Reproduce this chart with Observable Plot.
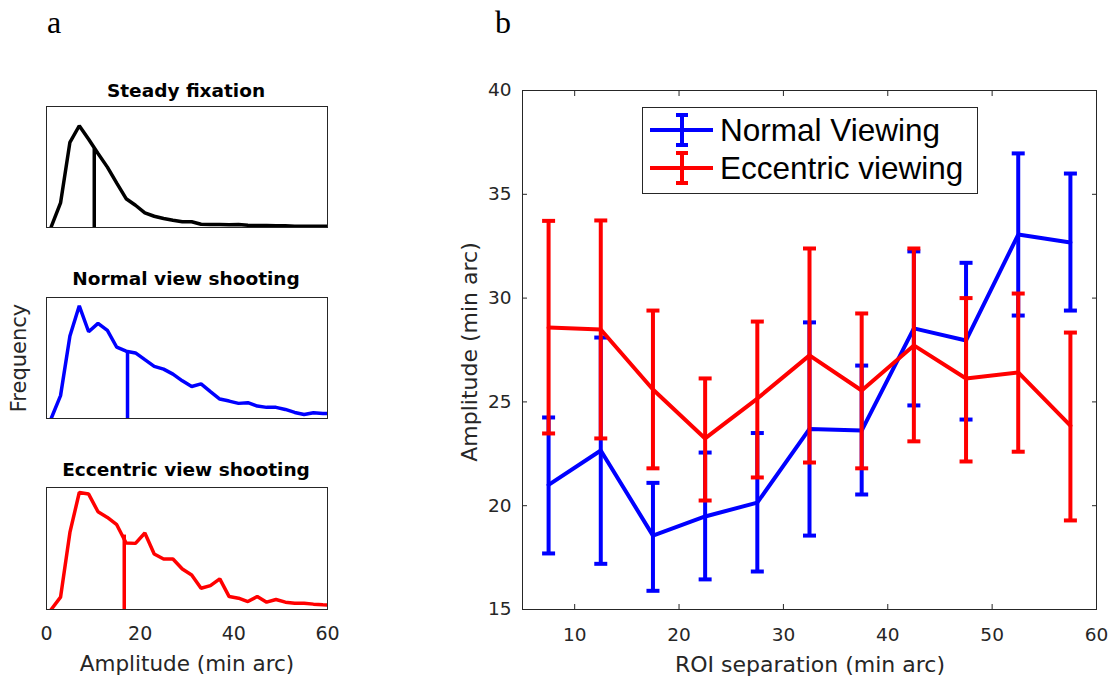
<!DOCTYPE html>
<html>
<head>
<meta charset="utf-8">
<script src="https://cdn.jsdelivr.net/npm/d3@7"></script>
<script src="https://cdn.jsdelivr.net/npm/@observablehq/plot@0.6"></script>
<style>
html,body{margin:0;padding:0;background:#fff;}
#root{position:relative;width:1108px;height:678px;overflow:hidden;background:#fff;}
.pane{position:absolute;}
.pane svg{display:block;}
</style>
</head>
<body>
<div id="root"></div>
<script>
// ---------- Panel a: amplitude histograms (relative frequency) ----------
const ampBins = [1,3,5,7,9,11,13,15,17,19,21,23,25,27,29,31,33,35,37,39,41,43,45,47,49,51,53,55,57,59,61];
const ampTicks = [0,20,40,60];
const steadyFreq = [0.005,0.203,0.704,0.841,0.729,0.611,0.499,0.367,0.238,0.184,0.121,0.093,0.074,0.060,0.047,0.047,0.027,0.025,0.025,0.022,0.025,0.019,0.016,0.016,0.014,0.014,0.011,0.011,0.011,0.011,0.011];
const normalFreq = [0,0.189,0.681,0.931,0.717,0.786,0.728,0.589,0.556,0.542,0.486,0.431,0.408,0.367,0.311,0.264,0.286,0.222,0.161,0.144,0.125,0.131,0.103,0.092,0.092,0.075,0.050,0.033,0.047,0.042,0.040];
const eccFreq = [0,0.101,0.632,0.959,0.946,0.801,0.755,0.695,0.545,0.542,0.627,0.455,0.414,0.414,0.332,0.283,0.174,0.196,0.251,0.106,0.093,0.065,0.106,0.060,0.082,0.060,0.052,0.052,0.044,0.038,0.036];
const medianAmp = [10.2, 17.3, 16.6];      // steady, normal, eccentric
const medianTop = [0.65, 0.556, 0.61];
const histTitles = ["Steady fixation", "Normal view shooting", "Eccentric view shooting"];
const histColors = ["#000000", "#0000ff", "#ff0000"];

// ---------- Panel b: amplitude vs ROI separation ----------
const roiSep = [7.5,12.5,17.5,22.5,27.5,32.5,37.5,42.5,47.5,52.5,57.5];
const roiTicks = [10,20,30,40,50,60];
const ampYTicks = [15,20,25,30,35,40];
const normalMean = [21.0,22.66,18.56,19.48,20.15,23.7,23.62,28.54,27.96,33.06,32.68];
const normalHigh = [24.25,28.1,21.1,22.56,23.5,28.83,26.75,32.25,31.7,36.97,36.0];
const normalLow  = [17.7,17.2,15.9,16.45,16.83,18.56,20.54,24.83,24.15,29.16,29.4];
const eccMean = [28.58,28.49,25.6,23.24,25.16,27.24,25.55,27.72,26.13,26.42,23.86];
const eccHigh = [33.72,33.74,29.4,26.13,28.87,32.39,29.26,32.39,30.0,30.22,28.34];
const eccLow  = [23.48,23.24,21.8,20.25,21.36,22.08,21.8,23.1,22.13,22.6,19.29];
const seriesNames = ["Normal Viewing", "Eccentric viewing"];
const seriesColors = ["#0000ff", "#ff0000"];

const root = document.getElementById("root");
const SANS = "'DejaVu Sans', sans-serif";
const INK = "#262626";

function place(node, left, top) {
  const d = document.createElement("div");
  d.className = "pane";
  d.style.left = left + "px";
  d.style.top = top + "px";
  d.appendChild(node);
  root.appendChild(d);
  return d;
}

const baseStyle = {background: "transparent", fontFamily: SANS, fontSize: "18px", color: INK, overflow: "visible"};

function hist(freq, medX, medY, color, withAxis) {
  const rows = ampBins.map((a, i) => ({amp: a, freq: freq[i]}));
  const marks = [
    Plot.line(rows, {x: "amp", y: "freq", stroke: color, strokeWidth: 3.5, strokeLinejoin: "miter", clip: true}),
    Plot.ruleX([{amp: medX, base: 0, top: medY}], {x: "amp", y1: "base", y2: "top", stroke: color, strokeWidth: 3.5}),
    Plot.frame({stroke: INK, strokeWidth: 1})
  ];
  if (withAxis) marks.push(Plot.axisX({ticks: ampTicks, tickSize: 0, tickPadding: 17, label: null, fontSize: 19, fill: INK}));
  return Plot.plot({
    width: 340, height: withAxis ? 197 : 133,
    marginLeft: 46, marginRight: 13, marginTop: 6, marginBottom: withAxis ? 69 : 6,
    x: withAxis ? {domain: [0, 60]} : {domain: [0, 60], axis: null},
    y: {domain: [0, 1], axis: null},
    style: baseStyle,
    marks
  });
}

// overlay text (behind plots)
const svgNS = "http://www.w3.org/2000/svg";
const overlay = document.createElementNS(svgNS, "svg");
overlay.setAttribute("width", 1108);
overlay.setAttribute("height", 678);
overlay.style.position = "absolute";
overlay.style.left = "0px";
overlay.style.top = "0px";
function addText(txt, x, y, opts) {
  const t = document.createElementNS(svgNS, "text");
  t.textContent = txt;
  t.setAttribute("x", 0);
  t.setAttribute("y", 0);
  t.setAttribute("transform", `translate(${x},${y})` + (opts.rotate ? ` rotate(${opts.rotate})` : ""));
  t.setAttribute("text-anchor", opts.anchor || "middle");
  t.setAttribute("font-family", opts.family || SANS);
  t.setAttribute("font-size", opts.size);
  if (opts.weight) t.setAttribute("font-weight", opts.weight);
  t.setAttribute("fill", opts.fill || "#000");
  overlay.appendChild(t);
}
root.appendChild(overlay);

addText("a", 54, 33, {size: 32, family: "'Liberation Serif', serif"});
addText("b", 503, 33, {size: 32, family: "'Liberation Serif', serif"});
addText(histTitles[0], 186, 97, {size: 18.5, weight: "bold"});
addText(histTitles[1], 186, 285, {size: 18.5, weight: "bold"});
addText(histTitles[2], 186, 476, {size: 18.5, weight: "bold"});
addText("Frequency", 26, 358, {size: 21, rotate: -90, fill: INK});
addText("Amplitude (min arc)", 187, 671, {size: 21.5, fill: INK});
addText("ROI separation (min arc)", 810, 672, {size: 22, fill: INK});
addText("Amplitude (min arc)", 477, 352, {size: 22, rotate: -90, fill: INK});

place(hist(steadyFreq, medianAmp[0], medianTop[0], histColors[0], false), 0, 100);
place(hist(normalFreq, medianAmp[1], medianTop[1], histColors[1], false), 0, 291);
place(hist(eccFreq, medianAmp[2], medianTop[2], histColors[2], true), 0, 481);

// panel b
const normalRows = roiSep.map((x, i) => ({x, mean: normalMean[i], lo: normalLow[i], hi: normalHigh[i]}));
const eccRows = roiSep.map((x, i) => ({x, mean: eccMean[i], lo: eccLow[i], hi: eccHigh[i]}));
const capSymbol = {draw(ctx, size) { const r = Math.sqrt(size / Math.PI); ctx.moveTo(-r, 0); ctx.lineTo(r, 0); }};

function seriesMarks(rows, color) {
  return [
    Plot.ruleX(rows, {x: "x", y1: "lo", y2: "hi", stroke: color, strokeWidth: 4}),
    Plot.dot(rows, {x: "x", y: "lo", r: 6.5, symbol: capSymbol, fill: "none", stroke: color, strokeWidth: 4}),
    Plot.dot(rows, {x: "x", y: "hi", r: 6.5, symbol: capSymbol, fill: "none", stroke: color, strokeWidth: 4}),
    Plot.line(rows, {x: "x", y: "mean", stroke: color, strokeWidth: 4, strokeLinejoin: "miter"})
  ];
}

const plotB = Plot.plot({
  width: 668, height: 618,
  marginLeft: 82, marginRight: 12, marginTop: 30, marginBottom: 69,
  x: {domain: [5, 60]},
  y: {domain: [15, 40]},
  style: baseStyle,
  marks: [
    ...seriesMarks(normalRows, seriesColors[0]),
    ...seriesMarks(eccRows, seriesColors[1]),
    Plot.frame({stroke: INK, strokeWidth: 1}),
    Plot.axisX({anchor: "bottom", ticks: roiTicks, tickSize: -5, tickPadding: 23, label: null, fontSize: 18.5, fill: INK, stroke: INK}),
    Plot.axisX({anchor: "top", ticks: roiTicks, tickSize: -5, tickFormat: () => "", label: null, stroke: INK}),
    Plot.axisY({anchor: "left", ticks: ampYTicks, tickSize: -5, tickPadding: 16, label: null, fontSize: 18.5, fill: INK, stroke: INK}),
    Plot.axisY({anchor: "right", ticks: ampYTicks, tickSize: -5, tickFormat: () => "", label: null, stroke: INK})
  ]
});
place(plotB, 440, 60);

// legend (inside panel b)
const leg = document.createElementNS(svgNS, "svg");
leg.setAttribute("width", 336);
leg.setAttribute("height", 87);
leg.style.position = "absolute";
leg.style.left = "642px";
leg.style.top = "107px";
let lg = `<rect x="0.5" y="0.5" width="335" height="86" fill="#fff" stroke="${INK}" stroke-width="1"/>`;
const rowsY = [23, 61];
seriesNames.forEach((name, i) => {
  const cy = rowsY[i], c = seriesColors[i];
  lg += `<line x1="8" x2="71" y1="${cy}" y2="${cy}" stroke="${c}" stroke-width="4"/>`;
  lg += `<line x1="40" x2="40" y1="${cy - 15}" y2="${cy + 15}" stroke="${c}" stroke-width="4"/>`;
  lg += `<line x1="34" x2="46" y1="${cy - 15}" y2="${cy - 15}" stroke="${c}" stroke-width="4"/>`;
  lg += `<line x1="34" x2="46" y1="${cy + 15}" y2="${cy + 15}" stroke="${c}" stroke-width="4"/>`;
  lg += `<text x="78" y="${cy + 11}" font-family="'Liberation Sans', Arial, sans-serif" font-size="31.5" fill="#000">${name}</text>`;
});
leg.innerHTML = lg;
root.appendChild(leg);
</script>
</body>
</html>
